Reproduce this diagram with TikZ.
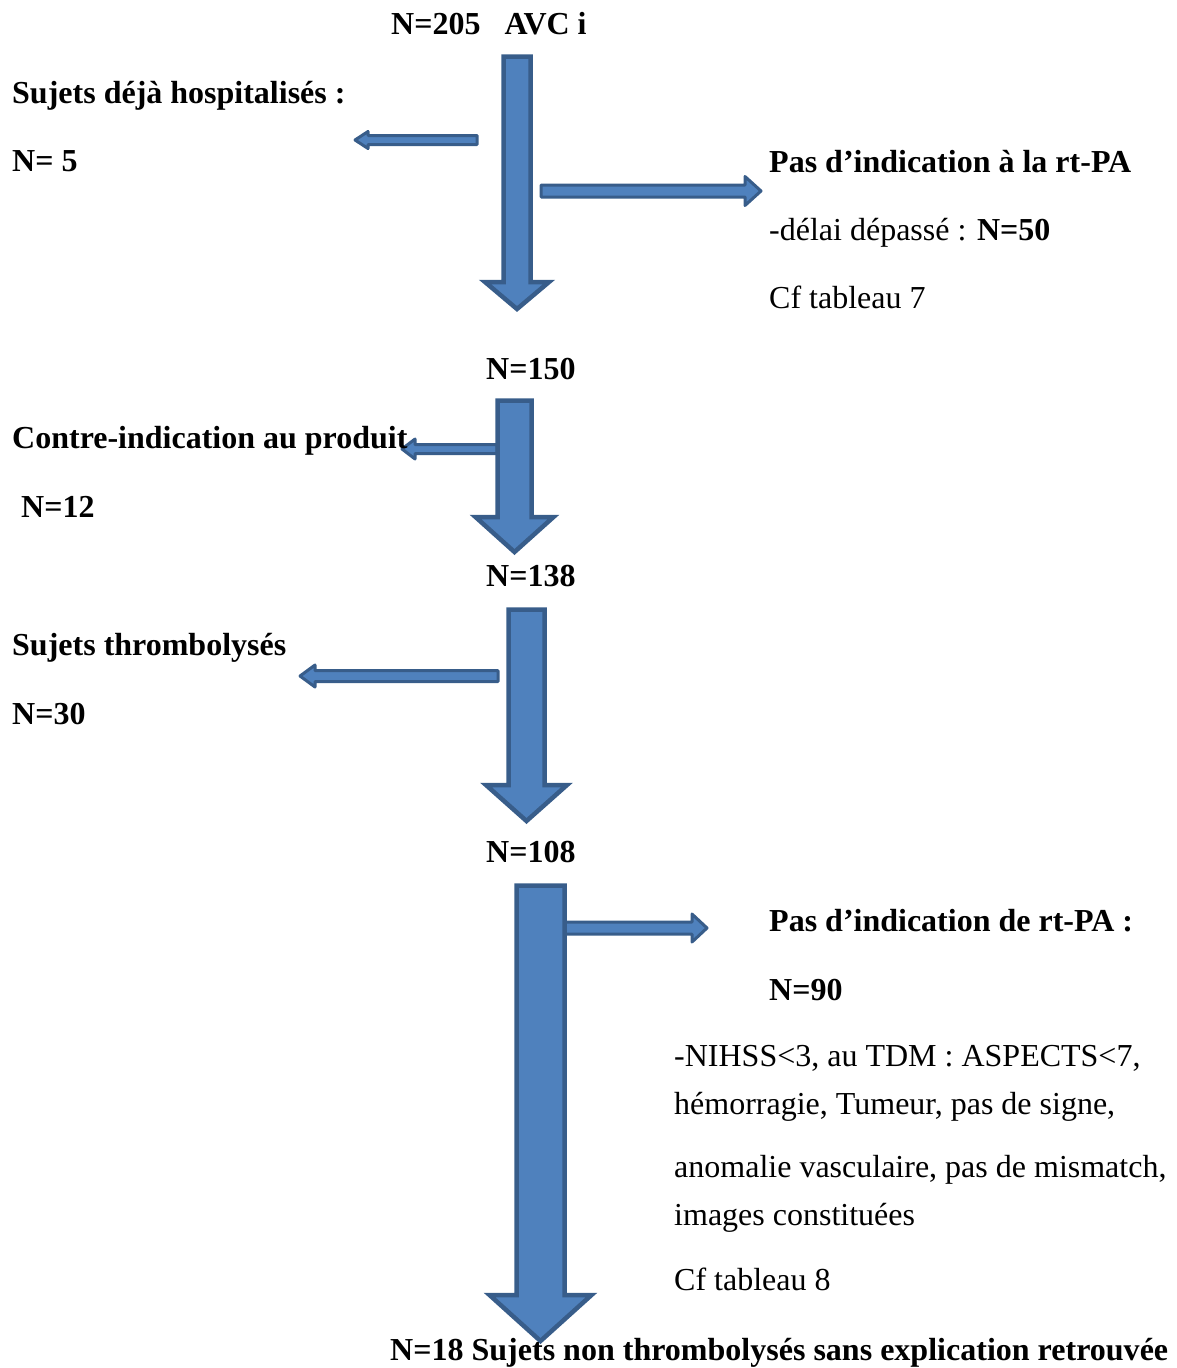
\documentclass[tikz,border=0pt]{standalone}
\usepackage{fontspec}
\setmainfont{Liberation Serif}
\usepackage{graphicx}
\definecolor{afill}{HTML}{4F81BD}
\definecolor{aline}{HTML}{385D8A}
% big down arrow: centre x, top, half shaft, head start, half head, tip
\newcommand\blockdown[6]{%
  \draw[bigarrow] (#1-#3,#2) -- (#1+#3,#2) -- (#1+#3,#4) -- (#1+#5,#4) -- (#1,#6)
    -- (#1-#5,#4) -- (#1-#3,#4) -- cycle;}
% horizontal thin arrow: y, tail x, tip x, head back x, half shaft, half head
\newcommand\blockhoriz[6]{%
  \draw[thinarrow] (#2,#1-#5) -- (#4,#1-#5) -- (#4,#1-#6) -- (#3,#1) -- (#4,#1+#6)
    -- (#4,#1+#5) -- (#2,#1+#5) -- cycle;}
\begin{document}
\begin{tikzpicture}[x=1pt,y=-1pt,
  bigarrow/.style={fill=afill,draw=aline,line width=4.5pt,line join=miter},
  thinarrow/.style={fill=afill,draw=aline,line width=3pt,line join=round},
  lbl/.style={anchor=base west,inner sep=0pt,font=\fontsize{32}{36}\selectfont},
  blbl/.style={lbl,font=\fontsize{32}{36}\selectfont\bfseries}]
\useasboundingbox (0,0) rectangle (1176,1368);
% thin side arrows
\blockhoriz{140}{477}{355}{368}{4.5}{8.5}
\blockhoriz{191}{541}{761}{745}{6}{14.5}
\blockhoriz{449}{497}{402}{415}{4.5}{10}
\blockhoriz{676}{498}{300}{315}{5.5}{11}
\blockhoriz{928}{565}{707}{692}{6}{14}
% main down arrows
\blockdown{517}{56.5}{13.5}{282}{32}{309}
\blockdown{514.5}{400.5}{17}{517}{39}{552}
\blockdown{526.5}{609.5}{18}{785}{40.5}{821}
\blockdown{540.5}{885.5}{24}{1295}{51}{1341}
% texts
\node[blbl] (t0) at (391,34) {N=205\ \ \ AVC i};
\node[blbl] (t1) at (12,103) {Sujets déjà hospitalisés :};
\node[blbl] (t2) at (12,171) {N= 5};
\node[blbl] (t3) at (769,172) {Pas d’indication à la rt-PA};
\node[lbl] (t4) at (769,240) {-délai dépassé : \textbf{N=50}};
\node[lbl] (t5) at (769,308) {Cf tableau 7};
\node[blbl] (t6) at (486,379) {N=150};
\node[blbl] (t7) at (12,448) {Contre-indication au produit};
\node[blbl] (t8) at (21,517) {N=12};
\node[blbl] (t9) at (486,586) {N=138};
\node[blbl] (t10) at (12,655) {Sujets thrombolysés};
\node[blbl] (t11) at (12,724) {N=30};
\node[blbl] (t12) at (486,862) {N=108};
\node[blbl] (t13) at (769,931) {Pas d’indication de rt-PA :};
\node[blbl] (t14) at (769,1000) {N=90};
\node[lbl] (t15) at (674,1066) {-NIHSS<3, au TDM : ASPECTS<7,};
\node[lbl] (t16) at (674,1114) {hémorragie, Tumeur, pas de signe,};
\node[lbl] (t17) at (674,1177) {anomalie vasculaire, pas de mismatch,};
\node[lbl] (t18) at (674,1225) {images constituées};
\node[lbl] (t19) at (674,1290) {Cf tableau 8};
\node[blbl] (t20) at (390,1360) {\resizebox{778pt}{\height}{N=18 Sujets non thrombolysés sans explication retrouvée}};
\end{tikzpicture}
\end{document}
